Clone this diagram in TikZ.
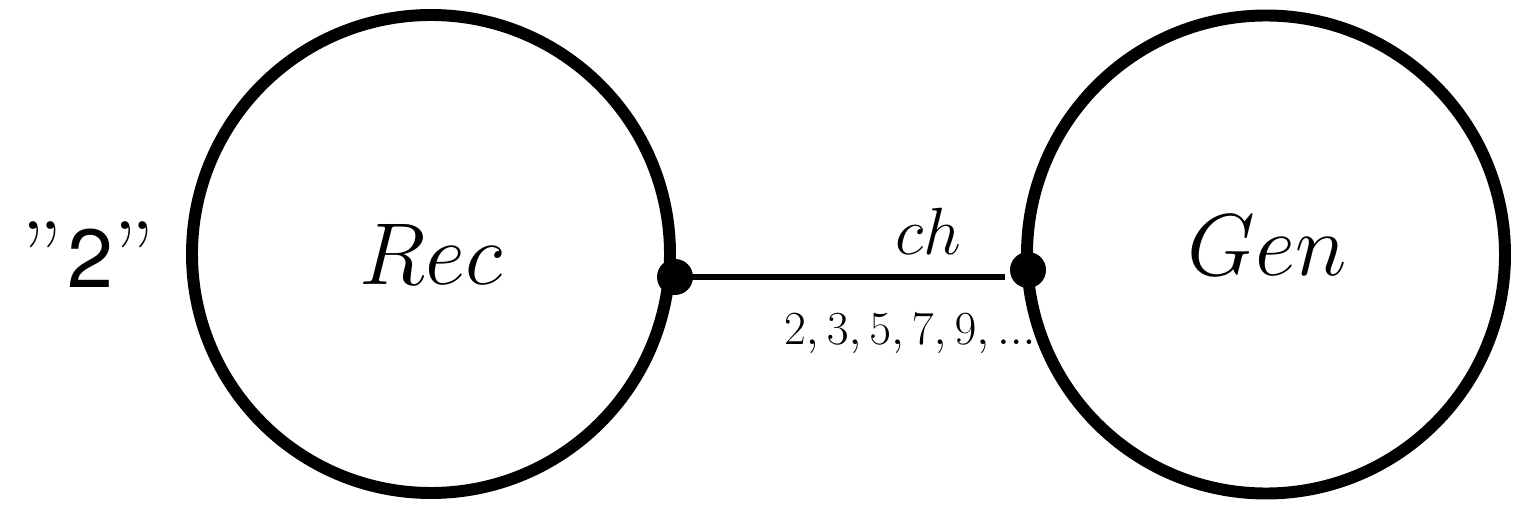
\RequirePackage{fix-cm}
\documentclass[tikz,border=0pt]{standalone}
\usepackage{fontspec}
\newfontfamily\digitfont{TeX Gyre Heros}
\usetikzlibrary{positioning}

\tikzset{
    bigcirc/.style={draw, circle, line width=6.8pt, minimum size=9.56cm, inner sep=0pt},
    port/.style={fill, circle, minimum size=0.72cm, inner sep=0pt},
    channel/.style={line width=2.85pt}
}

\begin{document}
\begin{tikzpicture}

\useasboundingbox (0,0) rectangle (30.3,10.1);

% Recepteur
\node[bigcirc] (rec) at (8.62,5.02) {};
\node (rectext) at (rec.center)
{\fontsize{50}{60}\selectfont $Rec$};

\node[anchor=base] (start) at (1.76,4.34)
{\fontsize{54}{64}\selectfont ”\kern0.06em{\fontsize{47}{56}\selectfont\digitfont 2}”};

% Generateur
\node[bigcirc] (gen) at (25.32,5.01) {};
\node (gentext) at (25.34,5.2)
{\fontsize{50}{60}\selectfont $Gen$};

% Canal
\node[port] (out) at (13.5,4.56) {};
\node[port] (in) at (20.56,4.7) {};
\coordinate (chend) at (20.1,4.56);
\draw[channel] (out.center) -- (chend);

\node[anchor=base] (chlabel) at (18.56,5.0)
{\fontsize{38}{46}\selectfont $ch$};

\node[anchor=base] (seq) at (18.2,3.2)
{\fontsize{27}{32}\selectfont $2,3,5,7,9,...$};

\end{tikzpicture}
\end{document}
